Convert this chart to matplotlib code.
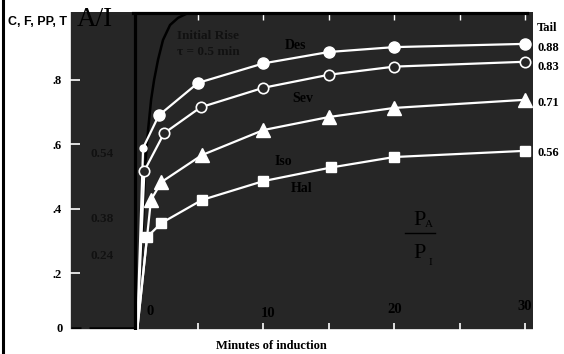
import matplotlib.pyplot as plt
from matplotlib.lines import Line2D

# values: minutes of induction vs. fraction P_A / P_I
des_t = [0.35, 0.8, 2, 5, 10, 15, 20, 30]
des_v = [0, 0.56, 0.66, 0.76, 0.82, 0.855, 0.87, 0.88]
sev_t = [0.35, 0.9, 2.4, 5.2, 10, 15, 20, 30]
sev_v = [0, 0.49, 0.605, 0.685, 0.745, 0.785, 0.81, 0.825]
iso_t = [0.35, 1.4, 2.2, 5.3, 10, 15, 20, 30]
iso_v = [0, 0.40, 0.455, 0.538, 0.615, 0.655, 0.683, 0.708]
hal_t = [0.35, 1.1, 2.2, 5.3, 10, 15.2, 20, 30]
hal_v = [0, 0.286, 0.329, 0.40, 0.458, 0.50, 0.532, 0.551]

# initial rise curve
rise_t = [0.34, 0.57, 0.8, 0.95, 1.18, 1.41, 1.64, 1.94, 2.32, 2.86, 3.47, 4.08]
rise_v = [0, 0.185, 0.338, 0.502, 0.615, 0.708, 0.769, 0.831, 0.892, 0.938, 0.96, 0.972]

series_names = ['Des', 'Sev', 'Iso', 'Hal']
tail_labels = ['0.88', '0.83', '0.71', '0.56']
left_notes = ['0.54', '0.38', '0.24']
minute_ticks = [5, 10, 15, 20, 25, 30]
minute_labels = ['0', '10', '20', '30']
frac_ticks = [0.2, 0.4, 0.6, 0.8]
frac_labels = ['.2', '.4', '.6', '.8']

W, H = 564, 354
bg = '#262626'
serif = 'Liberation Serif'


def fx(px):
    return px / W


def fy(py):
    return 1 - py / H


fig = plt.figure(figsize=(W / 100, H / 100), dpi=100)
fig.patch.set_facecolor('white')

ax = fig.add_axes([fx(70), 24 / H, 463 / W, 318 / H])
ax.set_facecolor(bg)
ax.set_xlim(-4.79, 30.61)
ax.set_ylim(0, 0.978)
for s in ['top', 'right']:
    ax.spines[s].set_visible(False)
for s in ['left', 'bottom']:
    ax.spines[s].set_color('white')
    ax.spines[s].set_linewidth(1.2)
ax.set_xticks(minute_ticks)
ax.set_yticks([])
ax.tick_params(axis='x', direction='in', color='white', length=5, width=1.2,
               labelbottom=False)

# left scale (drawn a little off the data scale, as in the original)
axl = ax.twinx()
axl.yaxis.tick_left()
axl.set_ylim(0.025, 1.009)
axl.set_yticks(frac_ticks)
axl.set_yticklabels(frac_labels, family=serif, weight='bold', fontsize=9)
axl.tick_params(axis='y', direction='in', color='white', length=7.5, width=1.2, pad=5.8)
for s in axl.spines.values():
    s.set_visible(False)
fig.text(fx(63), fy(329), '0', ha='right', va='center', family=serif,
         weight='bold', fontsize=9)

# black frame around the data part
ax.axvline(0.2, color='black', lw=2.3, zorder=4)
ax.plot([0.05, 30.15], [0.974, 0.974], color='black', lw=2.3, zorder=4, clip_on=False)
ax.vlines(minute_ticks, 0.954, 0.972, color='white', lw=1)
ax.hlines([0.006, 0.006], [-4.7, -3.3], [-3.95, 0.2], color='black', lw=1.8)

# initial rise
ax.plot(rise_t, rise_v, color='black', lw=1.8, zorder=2)

kw = dict(color='white', lw=1.6, zorder=3)
ax.plot(des_t, des_v, marker='o', ms=8, markevery=slice(2, None), **kw)
ax.plot(des_t[1], des_v[1], 'o', ms=5, color='white', zorder=3)
ax.plot(sev_t, sev_v, marker='o', ms=7.5, mfc=bg, mec='white', mew=1.2,
        markevery=slice(1, None), **kw)
ax.plot(iso_t, iso_v, marker='^', ms=10, markevery=slice(1, None), **kw)
ax.plot(hal_t, hal_v, marker='s', ms=7, markevery=slice(1, None), **kw)

# series names inside the plot
name_pos = [(12.49, 0.874), (13.0, 0.711), (11.5, 0.517), (12.95, 0.434)]
for name, (t, v) in zip(series_names, name_pos):
    ax.text(t, v, name, ha='center', va='center', family=serif, weight='bold',
            fontsize=10, color='black')

ax.text(3.4, 0.905, 'Initial Rise', ha='left', va='center', family=serif,
        weight='bold', fontsize=9.5, color='#111111')
ax.text(3.4, 0.855, '\u03c4 = 0.5 min', ha='left', va='center', family=serif,
        weight='bold', fontsize=9.5, color='#111111')

for lab, v in zip(left_notes, [0.542, 0.342, 0.228]):
    ax.text(-2.34, v, lab, ha='center', va='center', family=serif,
            weight='bold', fontsize=9.5, color='#111111')

# minute labels sit inside the plot above the axis
lab_pos = [(1.33, 0.058), (10.35, 0.052), (20.07, 0.062), (30.0, 0.071)]
for lab, (t, v) in zip(minute_labels, lab_pos):
    ax.text(t, v, lab, ha='center', va='center', family=serif, weight='bold',
            fontsize=10.5, color='black')

# tail values on the right
fig.text(fx(537), fy(28), 'Tail', ha='left', va='center', family=serif,
         weight='bold', fontsize=9)
for lab, py in zip(tail_labels, [48, 67, 103, 153]):
    fig.text(fx(537), fy(py), lab, ha='left', va='center', family=serif,
             weight='bold', fontsize=9)

# P_A / P_I
fig.text(fx(420), fy(225), 'P', ha='center', va='baseline', family=serif, fontsize=16)
fig.text(fx(425), fy(227), 'A', ha='left', va='baseline', family=serif, fontsize=8)
fig.text(fx(420), fy(258), 'P', ha='center', va='baseline', family=serif, fontsize=16)
fig.text(fx(429), fy(265), 'I', ha='left', va='baseline', family=serif, fontsize=8)
fig.add_artist(Line2D([fx(405), fx(435)], [fy(233), fy(233)], color='black', lw=1))

fig.text(fx(77), fy(26), 'A/I', ha='left', va='baseline', family=serif, fontsize=19.5)
fig.text(fx(8), fy(25), 'C, F, PP, T', ha='left', va='baseline',
         family='Liberation Sans', weight='bold', fontsize=9)
fig.text(fx(271), fy(346), 'Minutes of induction', ha='center', va='center',
         family=serif, weight='bold', fontsize=9)

fig.add_artist(Line2D([fx(3), fx(3)], [0, 1], color='black', lw=2.2))

fig.savefig('out.png', dpi=100, facecolor='white')
